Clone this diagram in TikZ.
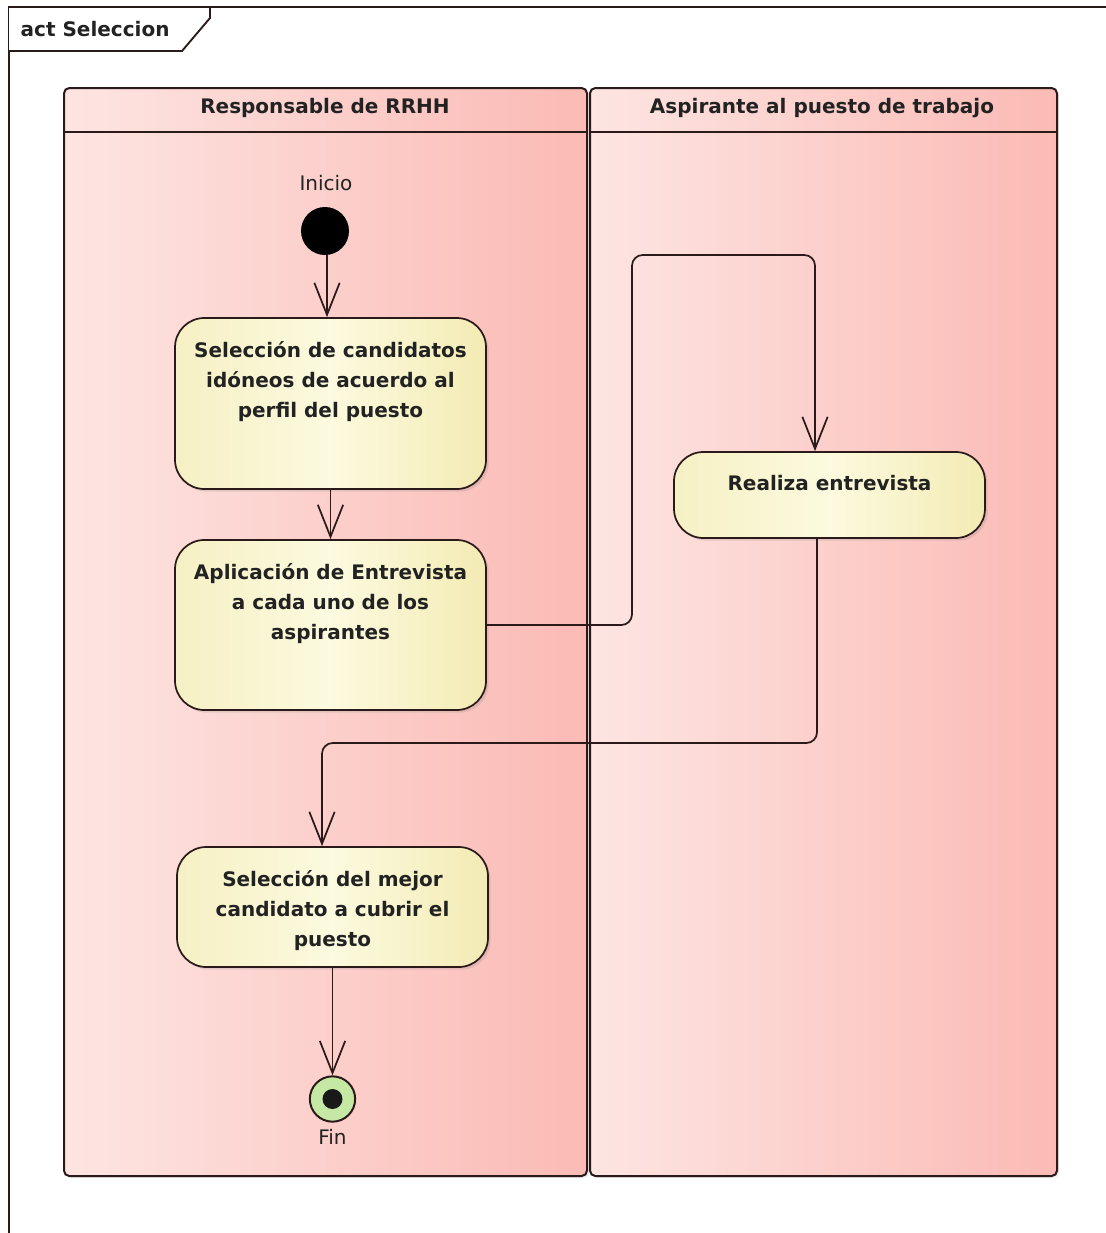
\documentclass[tikz,border=0pt]{standalone}
\usepackage{fontspec}
\setmainfont{DejaVu Sans}
\usetikzlibrary{arrows.meta,shadows}

\definecolor{edge}{HTML}{2A1A1A}
\definecolor{ink}{HTML}{222222}
\definecolor{laneL}{HTML}{FDE5E2}
\definecolor{laneR}{HTML}{FBBAB5}
\definecolor{actL}{HTML}{F6F0C4}
\definecolor{actM}{HTML}{FCFADF}
\definecolor{actR}{HTML}{F3EBB4}
\definecolor{finfill}{HTML}{C5E8A4}

\begin{document}
\begin{tikzpicture}[x=0.75pt,y=-0.75pt,
  frame/.style={draw=edge, line width=1.4pt},
  lane/.style={draw=edge, line width=1.5pt, rounded corners=4pt,
    left color=laneL, right color=laneR, inner sep=0, anchor=north west,
    drop shadow={shadow xshift=1.5pt, shadow yshift=-1.5pt, opacity=0.15}},
  lanehead/.style={font=\fontsize{15}{18}\selectfont\bfseries, text=ink},
  act/.style={draw=edge, line width=1.3pt, rounded corners=22pt,
    left color=actL, right color=actR, middle color=actM, inner sep=0,
    drop shadow={shadow xshift=2pt, shadow yshift=-2pt, opacity=0.2}},
  acttext/.style={font=\fontsize{15}{22.5}\selectfont\bfseries, text=ink,
    align=center, inner sep=0, anchor=north},
  lbl/.style={font=\fontsize{15}{18}\selectfont, text=ink},
  flow/.style={draw=edge, line width=1.3pt, rounded corners=8pt,
    -{Straight Barb[length=24pt,width=19pt]}}
]
\useasboundingbox (0,0) rectangle (1106,1233);
\fill[white] (0,0) rectangle (1106,1233);

% diagram frame and its name tab
\draw[frame] (9,7) rectangle (1130,1260);
\draw[frame, fill=white] (9,7) -- (210,7) -- (210,18) -- (182,51) -- (9,51);
\node[lanehead, anchor=west] (title) at (16,29) {act Seleccion};

% swimlanes
\node[lane, minimum width=392.25pt, minimum height=816pt] (laneA) at (63,87) {};
\node[lane, minimum width=350.25pt, minimum height=816pt] (laneB) at (589,87) {};
\draw[frame] (laneA.west |- 0,132) -- (laneA.east |- 0,132);
\draw[frame] (laneB.west |- 0,132) -- (1058,132);
\node[lanehead] (headA) at (325,108) {Responsable de RRHH};
\node[lanehead] (headB) at (822,108) {Aspirante al puesto de trabajo};

% initial node
\node[lbl] (inicioLbl) at (326,183) {Inicio};
\node[circle, fill=black, minimum size=36pt, inner sep=0] (inicio) at (325,231) {};

% actions
\node[act, minimum width=233.25pt, minimum height=128.25pt] (a1) at (330.5,403.5) {};
\node[acttext] (t1) at ([yshift=-18pt]a1.north) {Selección de candidatos\\idóneos de acuerdo al\\perfil del puesto};

\node[act, minimum width=233.25pt, minimum height=127.5pt] (a2) at (330.5,625) {};
\node[acttext] (t2) at ([yshift=-18pt]a2.north) {Aplicación de Entrevista\\a cada uno de los\\aspirantes};

\node[act, minimum width=233.25pt, minimum height=64.5pt] (a3) at (829.5,495) {};
\node[acttext] (t3) at ([yshift=-18pt]a3.north) {Realiza entrevista};

\node[act, minimum width=233.25pt, minimum height=90pt] (a4) at (332.5,907) {};
\node[acttext] (t4) at ([yshift=-18pt]a4.north) {Selección del mejor\\candidato a cubrir el\\puesto};

% final node
\node[circle, draw=edge, line width=1.5pt, fill=finfill, minimum size=34pt, inner sep=0] (fin) at (332.5,1099) {};
\fill[black!90] (fin.center) circle (7.5pt);
\node[lbl] (finLbl) at (332.5,1137) {Fin};

% bend points of the routed flows
\coordinate (k1) at (632,255);
\coordinate (k2) at (815,255);
\coordinate (k3) at (817,743);
\coordinate (k4) at (322,743);

% control flows
\draw[flow] (inicio.south -| 327,0) -- (327,0 |- a1.north);
\draw[flow] (a1.south) -- (a2.north);
\draw[flow] (a2.east) -| (k1) -- (k2) -- (k2 |- a3.north);
\draw[flow] (k3 |- a3.south) -- (k3) -- (k4) -- (k4 |- a4.north);
\draw[flow] (a4.south) -- (fin.north);
\end{tikzpicture}
\end{document}
